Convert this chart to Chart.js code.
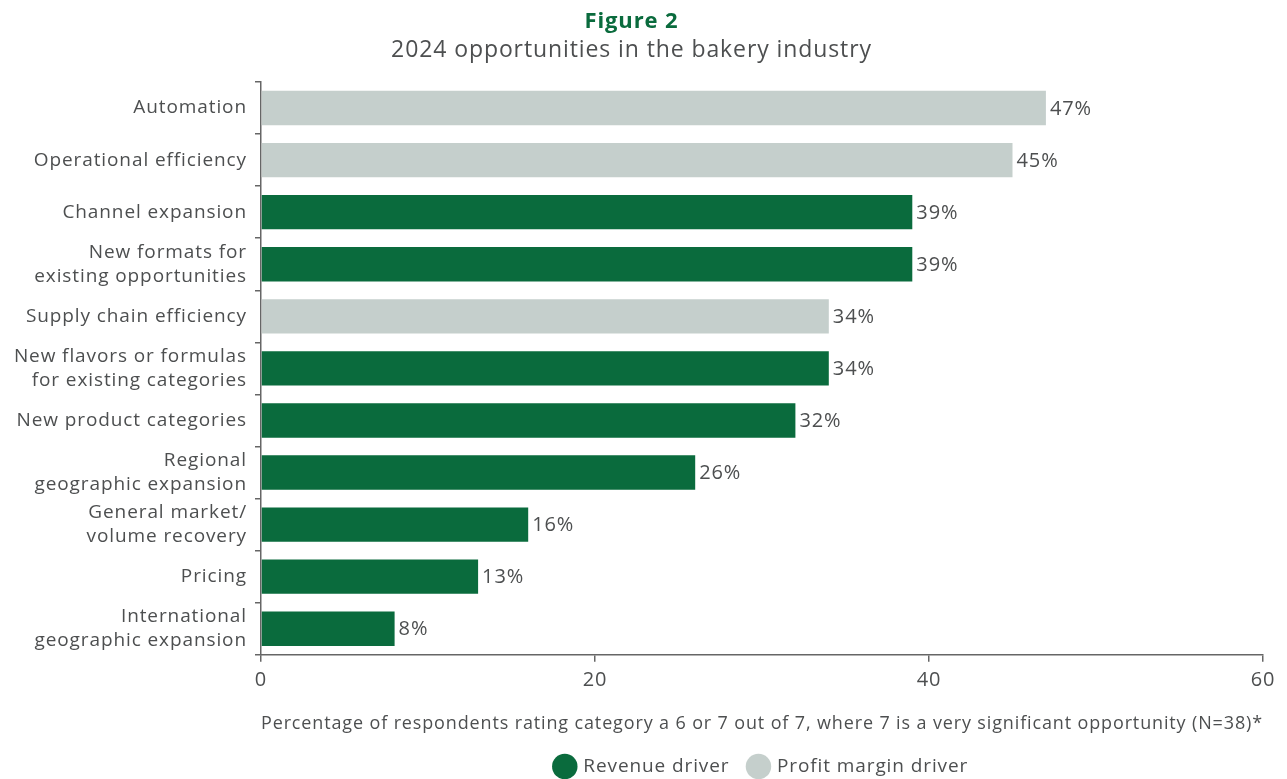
<!DOCTYPE html>
<html>
<head>
<meta charset="utf-8">
<script src="https://cdn.jsdelivr.net/npm/chart.js@4"></script>
<style>
  html, body { margin: 0; padding: 0; background: #fff; }
  #wrap { width: 1287px; height: 779px; position: relative; }
</style>
</head>
<body>
<div id="wrap"><canvas id="chart"></canvas></div>
<script>
// categories, top to bottom
const categories = [
  'Automation',
  'Operational efficiency',
  'Channel expansion',
  ['New formats for', 'existing opportunities'],
  'Supply chain efficiency',
  ['New flavors or formulas', 'for existing categories'],
  'New product categories',
  ['Regional', 'geographic expansion'],
  ['General market/', 'volume recovery'],
  'Pricing',
  ['International', 'geographic expansion']
];
const shares = [47, 45, 39, 39, 34, 34, 32, 26, 16, 13, 8];
// R = revenue driver, P = profit margin driver
const driverType = ['P', 'P', 'R', 'R', 'P', 'R', 'R', 'R', 'R', 'R', 'R'];
const xTicks = [0, 20, 40, 60];

const GREEN = '#0a6b3d';
const GREY = '#c5cfcc';
const TEXT = '#4d4f50';
const FONT = '"Open Sans", Lato, sans-serif';
const SPACING = '0.9px';

const revenue = shares.map((v, i) => driverType[i] === 'R' ? v : null);
const profit = shares.map((v, i) => driverType[i] === 'P' ? v : null);

// the canvas loses its state on resize, so the tracking is set again before layout and draw
const tracking = {
  id: 'tracking',
  beforeUpdate(chart) { chart.ctx.letterSpacing = SPACING; },
  beforeDraw(chart) { chart.ctx.letterSpacing = SPACING; }
};

// writes "47%" just past the end of each bar
const valueLabels = {
  id: 'valueLabels',
  afterDatasetsDraw(chart) {
    const ctx = chart.ctx;
    ctx.save();
    ctx.font = '20px ' + FONT;
    ctx.fillStyle = TEXT;
    ctx.textBaseline = 'middle';
    ctx.textAlign = 'left';
    chart.data.datasets.forEach((ds, di) => {
      chart.getDatasetMeta(di).data.forEach((bar, i) => {
        if (ds.data[i] == null) return;
        ctx.fillText(ds.data[i] + '%', bar.x + 4, bar.y + 1);
      });
    });
    ctx.restore();
  }
};

new Chart(document.getElementById('chart'), {
  type: 'bar',
  data: {
    labels: categories,
    datasets: [
      { label: 'Revenue driver', data: revenue, backgroundColor: GREEN },
      { label: 'Profit margin driver', data: profit, backgroundColor: GREY }
    ]
  },
  options: {
    indexAxis: 'y',
    responsive: true,
    maintainAspectRatio: false,
    animation: false,
    layout: { padding: { left: 0, right: 24, top: 0, bottom: -7 } },
    datasets: { bar: { barPercentage: 0.66, categoryPercentage: 1 } },
    scales: {
      x: {
        min: 0,
        max: 60,
        afterBuildTicks: (axis) => { axis.ticks = xTicks.map(v => ({ value: v })); },
        border: { color: '#666', width: 1.5 },
        grid: { drawOnChartArea: false, tickLength: 7, color: '#666', lineWidth: 1.5 },
        ticks: { color: TEXT, font: { family: FONT, size: 20 }, padding: 6 },
        title: {
          display: true,
          text: 'Percentage of respondents rating category a 6 or 7 out of 7, where 7 is a very significant opportunity (N=38)*',
          color: TEXT,
          font: { family: FONT, size: 18.5 },
          align: 'end',
          padding: { top: 15, bottom: 2 }
        }
      },
      y: {
        stacked: true,
        afterFit: (axis) => { axis.width = 261; },
        border: { color: '#666', width: 1.5 },
        grid: { drawOnChartArea: false, offset: true, tickLength: 6, color: '#666', lineWidth: 1.5 },
        ticks: { color: TEXT, font: { family: FONT, size: 19, lineHeight: 1.25 }, padding: 8 }
      }
    },
    plugins: {
      title: {
        display: true,
        text: 'Figure 2',
        color: GREEN,
        font: { family: FONT, size: 22, weight: 'bold' },
        padding: { top: 9, bottom: 1 }
      },
      subtitle: {
        display: true,
        text: '2024 opportunities in the bakery industry',
        color: TEXT,
        font: { family: FONT, size: 23 },
        padding: { bottom: 18 }
      },
      legend: {
        position: 'bottom',
        fullSize: false,
        labels: {
          usePointStyle: true,
          pointStyle: 'circle',
          boxWidth: 18,
          boxHeight: 18,
          padding: 20,
          color: TEXT,
          font: { family: FONT, size: 19 }
        }
      },
      tooltip: { enabled: false }
    }
  },
  plugins: [tracking, valueLabels]
});
</script>
</body>
</html>
